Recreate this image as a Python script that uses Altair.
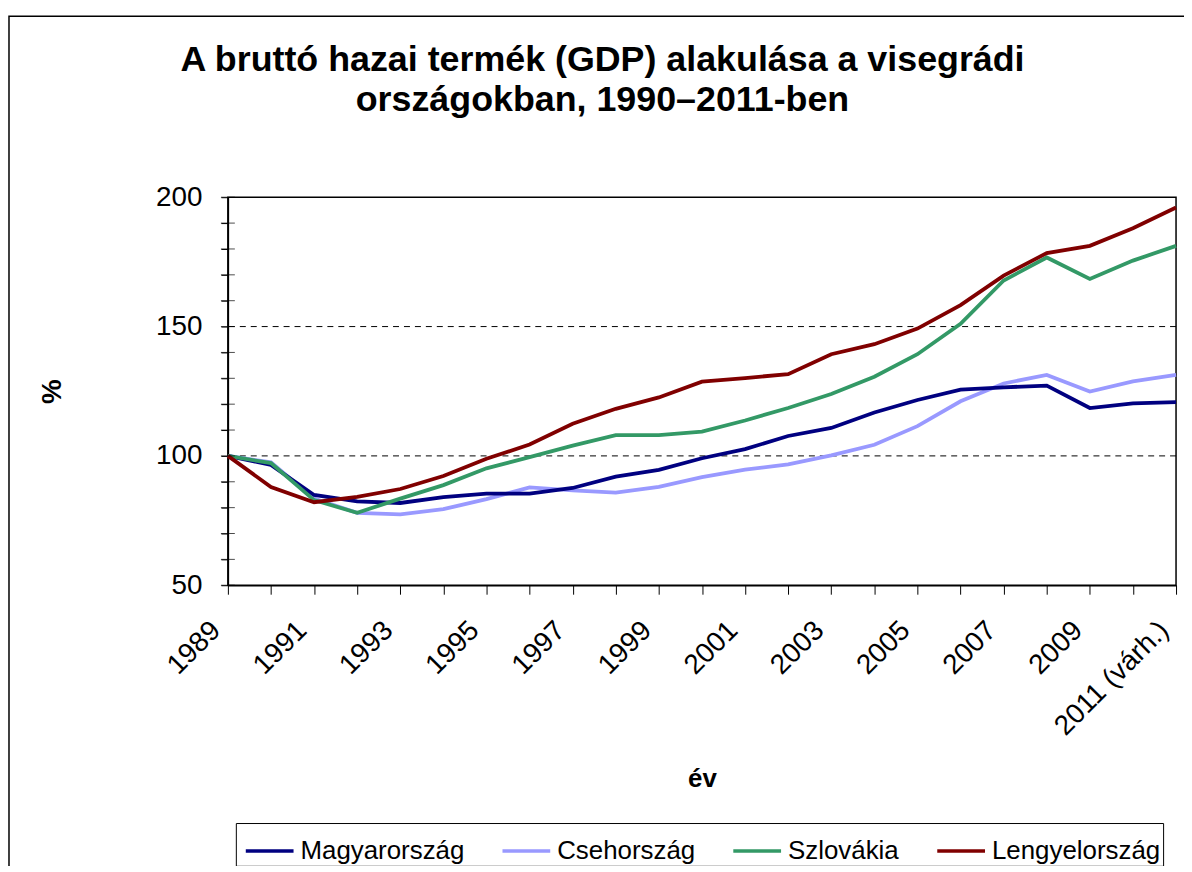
import json
import altair as alt
import pandas as pd

# ---- data (1989 = 100) ----
years = ["1989", "1990", "1991", "1992", "1993", "1994", "1995", "1996",
         "1997", "1998", "1999", "2000", "2001", "2002", "2003", "2004",
         "2005", "2006", "2007", "2008", "2009", "2010", "2011 (várh.)"]

magyarorszag = [100, 96.5, 84.9, 82.4, 81.8, 84.1, 85.4, 85.4, 87.6, 92.0, 94.6,
                99.1, 102.6, 107.7, 110.8, 116.8, 121.6, 125.6, 126.5, 127.2,
                118.5, 120.3, 120.8]
csehorszag = [100, 97.5, 83.5, 78.0, 77.4, 79.4, 83.3, 87.8, 86.7, 85.8, 88.0,
              91.8, 94.7, 96.7, 100.2, 104.3, 111.5, 121.1, 128.0, 131.3,
              124.9, 128.8, 131.3]
szlovakia = [100, 97.2, 82.9, 78.0, 83.5, 88.7, 95.2, 99.5, 104.0, 108.0, 108.0,
             109.4, 113.7, 118.5, 123.9, 130.6, 139.3, 151.1, 167.8, 176.7,
             168.4, 175.5, 181.2]
lengyelorszag = [100, 88.0, 82.1, 84.2, 87.2, 92.2, 98.9, 104.4, 112.4, 118.2,
                 122.6, 128.7, 130.1, 131.6, 139.3, 143.2, 149.2, 158.3, 169.7,
                 178.4, 181.2, 188.0, 196.0]

legend_order = ["Magyarország", "Csehország", "Szlovákia", "Lengyelország"]
colors = ["#000080", "#9999FF", "#339966", "#800000"]
draw_order = ["Csehország", "Magyarország", "Szlovákia", "Lengyelország"]
series = {"Magyarország": magyarorszag, "Csehország": csehorszag,
          "Szlovákia": szlovakia, "Lengyelország": lengyelorszag}

y_ticks = [50, 60, 70, 80, 90, 100, 110, 120, 130, 140, 150, 160, 170, 180, 190, 200]
y_grid = [100, 150]
x_labels_shown = years[::2]

title_lines = ["A bruttó hazai termék (GDP) alakulása a visegrádi",
               "országokban, 1990–2011-ben"]

FONT = "Liberation Sans"

rows = []
for name in draw_order:
    for yr, v in zip(years, series[name]):
        rows.append({"ev": yr, "orszag": name, "ertek": v})
df = pd.DataFrame(rows)

y_scale = alt.Scale(domain=[50, 200], nice=False, zero=False)

x_axis = alt.Axis(
    title="év", titleFontSize=26, titleFontWeight="bold", titleColor="black",
    titleY=202, titleBaseline="alphabetic",
    labelAngle=315, labelFontSize=28, labelColor="black", labelOverlap=False,
    labelExpr="indexof(" + json.dumps(x_labels_shown) + ", datum.value) >= 0 ? datum.label : ''",
    labelPadding=22, labelOffset=-22, labelBound=False,
    tickSize=9, tickColor="black", domainColor="black", domainWidth=1.5,
    grid=False,
)

y_axis = alt.Axis(
    values=y_ticks, labelExpr="datum.value % 50 == 0 ? datum.label : ''",
    tickSize=7, tickColor="black", labelPadding=19, labelFontSize=28,
    labelColor="black", domainColor="black", domainWidth=1.5, grid=False,
    title="%", titleFontSize=28, titleFontWeight="bold", titleColor="black",
    titleAngle=270, titleX=-176, titleY=195, titleAlign="center",
    titleBaseline="middle",
)

lines = alt.Chart(df).mark_line(strokeWidth=3.8).encode(
    x=alt.X("ev:N", sort=years, scale=alt.Scale(type="point", padding=0), axis=x_axis),
    y=alt.Y("ertek:Q", scale=y_scale, axis=y_axis),
    color=alt.Color(
        "orszag:N",
        scale=alt.Scale(domain=legend_order, range=colors),
        legend=alt.Legend(
            orient="none", legendX=8, legendY=629, direction="horizontal",
            title=None, strokeColor="black", fillColor="white", padding=2,
            symbolType="stroke", symbolSize=2304, symbolStrokeWidth=3.5,
            labelFontSize=26, labelColor="black", labelOffset=5,
            columnPadding=30, symbolOffset=6, labelLimit=400,
        ),
    ),
    order=alt.Order("ord:Q"),
).transform_calculate(
    ord="indexof(" + json.dumps(draw_order) + ", datum.orszag)"
)

grid = alt.Chart(pd.DataFrame({"ertek": y_grid})).mark_rule(
    color="black", strokeWidth=1, strokeDash=[6, 5]
).encode(y=alt.Y("ertek:Q", scale=y_scale, axis=y_axis))

minor = alt.Chart(pd.DataFrame({"ertek": y_ticks})).mark_tick(
    color="black", orient="horizontal", size=14, thickness=1
).encode(y=alt.Y("ertek:Q", scale=y_scale, axis=y_axis), x=alt.value(0))

frame = alt.Chart(pd.DataFrame({"a": [0]})).mark_rect(
    fillOpacity=0, stroke="black", strokeWidth=1.5
).encode(x=alt.value(-220), x2=alt.value(1100), y=alt.value(-182), y2=alt.value(900))

chart = alt.layer(frame, grid, lines, minor).properties(
    width=953, height=390,
    padding={"left": 221, "top": 188, "right": 8, "bottom": 280},
    autosize=alt.AutoSizeParams(type="none"),
    title=alt.TitleParams(
        text=title_lines, fontSize=36, fontWeight="bold", font=FONT,
        color="black", anchor="middle", dx=-100, offset=0, dy=104, lineHeight=40,
    ),
).configure(font=FONT).configure_view(stroke="black", strokeWidth=1.5)

chart.save("out.html", embed_options={"renderer": "svg", "actions": False})
